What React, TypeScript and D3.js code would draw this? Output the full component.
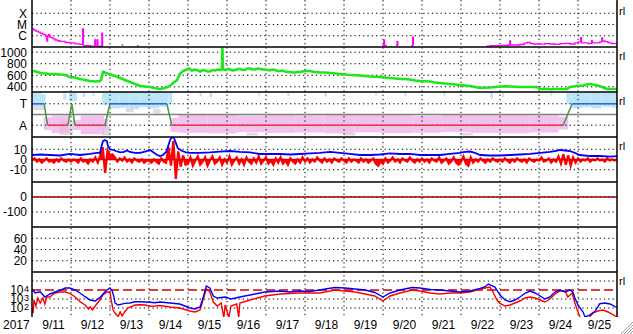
import React from "react";
import * as d3 from "d3";

// ---------------- DATA ----------------
// time is given as fractional day of September 2017
const yearLabel = "2017";
const dayLabels = ["9/11", "9/12", "9/13", "9/14", "9/15", "9/16", "9/17", "9/18", "9/19", "9/20", "9/21", "9/22", "9/23", "9/24", "9/25"];

// GOES X-ray flux (W/m^2), null = gap
const xray: [number, number | null][] = [
  [11.0, 4.0e-6], [11.05, 3.2e-6], [11.1, 2.6e-6], [11.16, 2.1e-6], [11.21, 1.7e-6], [11.27, 1.4e-6], [11.31, 1.2e-6],
  [11.36, 8.6e-7], [11.38, 3.4e-7], [11.4, 9.5e-7], [11.43, 1.3e-6], [11.45, 7.5e-7], [11.49, 6.9e-7], [11.54, 5.2e-7],
  [11.59, 4.2e-7], [11.65, 3.6e-7], [11.72, 3.1e-7], [11.85, 2.5e-7], [11.97, 2.3e-7], [12.1, 1.9e-7], [12.23, 1.7e-7],
  [12.29, 1.7e-7], [12.3, 4.0e-6], [12.32, 1.3e-7], [12.49, 1.2e-7], [12.6, 1.2e-7], [12.61, 4.2e-7], [12.63, 1.2e-7],
  [12.66, 1.2e-7], [12.67, 4.2e-7], [12.69, 1.2e-7], [12.78, 1.2e-7], [12.79, 1.7e-6], [12.81, 1.1e-7], [12.82, null],
  [13.3, 1.5e-7], [13.34, 1.5e-7], [13.35, null],
  [13.69, 1.3e-7], [13.73, 1.3e-7], [13.74, null],
  [19.98, 1.3e-7], [20.02, 4.2e-7], [20.04, 1.3e-7], [20.1, 1.3e-7], [20.12, null],
  [20.33, 1.3e-7], [20.36, 3.0e-7], [20.38, 1.3e-7], [20.42, null],
  [20.72, 1.3e-7], [20.76, 7.7e-7], [20.78, 1.4e-7], [20.82, null],
  [22.65, 1.2e-7], [22.75, 1.3e-7], [22.87, 1.35e-7], [23.05, 1.4e-7], [23.21, 1.5e-7], [23.25, 3.4e-7], [23.27, 1.5e-7],
  [23.33, 1.5e-7], [23.51, 1.66e-7], [23.62, 2.2e-7], [23.69, 2.5e-7], [23.78, 2.0e-7], [23.85, 1.85e-7], [24.03, 1.8e-7],
  [24.15, 2.0e-7], [24.28, 1.85e-7], [24.41, 1.7e-7], [24.54, 2.0e-7], [24.67, 2.1e-7], [24.79, 1.85e-7], [24.92, 2.3e-7],
  [25.0, 2.8e-7], [25.07, 6.9e-7], [25.09, 2.3e-7], [25.26, 2.0e-7], [25.35, 3.7e-7], [25.37, 2.3e-7], [25.44, 2.3e-7],
  [25.56, 2.8e-7], [25.61, 6.3e-7], [25.63, 3.4e-7], [25.69, 3.0e-7], [25.77, 2.3e-7], [25.87, 2.0e-7], [26.0, 1.85e-7],
];

// Solar wind speed (km/s)
const windSpeed: [number, number][] = [
  [11.0, 657], [11.05, 674], [11.1, 666], [11.21, 640], [11.33, 631], [11.46, 622], [11.59, 622], [11.72, 613], [11.85, 605],
  [11.97, 570], [12.1, 561], [12.23, 535], [12.36, 518], [12.49, 501], [12.62, 492], [12.74, 501], [12.77, 518], [12.82, 657],
  [12.9, 640], [13.0, 613], [13.13, 587], [13.26, 553], [13.38, 518], [13.51, 483], [13.64, 449], [13.77, 414], [13.9, 405],
  [14.03, 397], [14.15, 379], [14.28, 362], [14.41, 379], [14.54, 414], [14.62, 466], [14.72, 518], [14.79, 622], [14.87, 674],
  [14.97, 700], [15.03, 717], [15.1, 683], [15.17, 700], [15.23, 691], [15.31, 666], [15.38, 691], [15.44, 683], [15.5, 666],
  [15.56, 666], [15.63, 691], [15.69, 683], [15.76, 700], [15.82, 691], [15.87, 709], [15.88, 1080], [15.9, 700], [15.97, 691],
  [16.03, 709], [16.08, 700], [16.15, 683], [16.21, 691], [16.28, 709], [16.33, 709], [16.4, 691], [16.46, 691], [16.52, 717],
  [16.59, 717], [16.66, 700], [16.72, 700], [16.79, 717], [16.85, 709], [16.91, 700], [16.97, 700], [17.04, 691], [17.1, 683],
  [17.17, 700], [17.23, 691], [17.3, 674], [17.36, 674], [17.42, 683], [17.49, 666], [17.55, 657], [17.62, 657], [17.68, 648],
  [17.74, 648], [17.8, 657], [17.87, 657], [18.0, 674], [18.13, 674], [18.25, 657], [18.38, 648], [18.51, 648], [18.64, 640],
  [18.77, 631], [18.9, 622], [19.02, 613], [19.15, 605], [19.28, 600], [19.41, 596], [19.54, 587], [19.67, 579], [19.8, 575],
  [19.92, 570], [20.05, 561], [20.18, 553], [20.31, 544], [20.44, 535], [20.56, 535], [20.69, 527], [20.82, 509], [20.95, 501],
  [21.08, 497], [21.21, 492], [21.33, 475], [21.46, 466], [21.59, 458], [21.72, 449], [21.85, 440], [21.97, 431], [22.1, 423],
  [22.23, 414], [22.36, 397], [22.49, 379], [22.62, 384], [22.74, 388], [22.87, 397], [23.0, 405], [23.13, 409], [23.26, 405],
  [23.38, 401], [23.51, 397], [23.74, 397], [23.95, 397], [24.03, 362], [24.15, 366], [24.28, 357], [24.41, 362], [24.54, 362],
  [24.72, 362], [24.79, 397], [24.88, 405], [24.97, 414], [25.05, 418], [25.13, 423], [25.22, 440], [25.31, 449], [25.38, 440],
  [25.46, 431], [25.54, 414], [25.62, 397], [25.68, 379], [25.74, 362], [25.87, 362], [26.0, 362],
];

// IMF phi angle scatter, bands: [startDay, endDay, low, high] in sector units (+0.5 toward, -0.5 away)
const phiToward: [number, number, number, number][] = [
  [11.0, 11.25, 0.4, 1.02], [11.25, 11.35, 0.5, 0.95], [11.8, 11.88, 0.7, 0.98], [11.95, 12.15, 0.62, 1.02],
  [12.3, 12.36, 0.82, 1.0], [12.55, 12.6, 0.86, 1.0], [12.8, 13.0, 0.45, 1.02], [13.0, 13.25, 0.28, 1.04],
  [13.25, 13.5, 0.32, 1.04], [13.5, 13.75, 0.25, 1.04], [13.75, 14.0, 0.34, 1.04], [14.0, 14.25, 0.28, 1.04],
  [14.25, 14.5, 0.36, 1.04], [14.5, 14.6, 0.5, 1.0], [15.3, 15.36, 0.85, 1.02], [15.55, 15.62, 0.8, 1.02],
  [16.8, 16.85, 0.88, 1.02], [17.55, 17.6, 0.86, 1.02], [18.5, 18.56, 0.84, 1.02], [19.8, 19.84, 0.88, 1.02],
  [20.55, 20.6, 0.85, 1.02], [21.55, 21.6, 0.88, 1.02], [22.75, 22.82, 0.75, 1.02], [23.05, 23.1, 0.8, 1.02],
  [24.3, 24.34, 0.86, 1.02], [24.7, 24.85, 0.5, 1.02], [24.85, 25.1, 0.3, 1.04], [25.1, 25.35, 0.34, 1.04],
  [25.35, 25.6, 0.28, 1.04], [25.6, 25.85, 0.36, 1.04], [25.85, 26.0, 0.32, 1.04],
];
const phiAway: [number, number, number, number][] = [
  [11.3, 11.5, -0.72, -0.12], [11.5, 11.95, -0.86, -0.05], [12.05, 12.25, -0.72, -0.26], [12.25, 12.85, -0.92, -0.05],
  [12.85, 12.95, -0.7, -0.2], [14.55, 14.75, -0.82, -0.15], [14.75, 15.5, -0.85, -0.02], [15.5, 16.25, -0.88, 0.02],
  [16.25, 17.0, -0.82, -0.05], [17.0, 17.75, -0.86, 0.0], [17.75, 18.5, -0.84, -0.04], [18.5, 19.25, -0.88, 0.03],
  [19.25, 20.0, -0.83, -0.02], [20.0, 20.75, -0.87, 0.0], [20.75, 21.5, -0.85, -0.06], [21.5, 22.25, -0.82, 0.02],
  [22.25, 23.0, -0.86, -0.03], [23.0, 23.75, -0.88, 0.0], [23.75, 24.5, -0.84, -0.04], [24.5, 24.75, -0.7, -0.1],
];
const phiOther: [number, number, number, number][] = [
  [11.0, 11.3, 0.2, 0.45], [11.7, 12.05, -0.95, -0.3], [12.8, 13.0, -0.98, -0.55], [13.4, 13.6, 0.1, 0.3],
  [14.1, 14.3, 0.05, 0.25], [16.5, 16.8, -0.98, -0.85], [19.0, 19.3, -0.98, -0.86], [22.0, 22.3, -0.98, -0.86],
];
// modelled sector polarity: +1 toward, -1 away
const sectorState: [number, number][] = [
  [11.0, 1], [11.31, 1], [11.4, -1], [11.92, -1], [12.02, 1], [12.1, -1], [12.87, -1], [13.0, 1],
  [14.46, 1], [14.58, -1], [24.62, -1], [24.85, 1], [26.0, 1],
];

// IMF |B| (nT)
const imfBt: [number, number][] = [
  [11.0, 4.4], [11.21, 4.9], [11.46, 4.4], [11.72, 3.9], [11.97, 5.4], [12.23, 4.4], [12.49, 5.4], [12.67, 6.4], [12.74, 6.4],
  [12.79, 14], [12.82, 18], [12.87, 19], [12.92, 18], [12.95, 13], [13.0, 10], [13.08, 9.3], [13.15, 8.3], [13.26, 6.9],
  [13.36, 7.4], [13.44, 8.8], [13.51, 7.4], [13.64, 6.4], [13.77, 6.4], [13.9, 7.8], [14.03, 9.3], [14.1, 7.4], [14.21, 4.4],
  [14.28, 3.4], [14.36, 4.4], [14.44, 7.4], [14.49, 13], [14.54, 19], [14.59, 22], [14.64, 21], [14.69, 16], [14.74, 11],
  [14.85, 8.3], [14.95, 6.9], [15.05, 6.4], [15.31, 6.4], [15.56, 6.9], [15.82, 7.8], [16.08, 8.3], [16.33, 7.4], [16.59, 6.9],
  [16.85, 5.4], [17.1, 5.4], [17.36, 5.4], [17.62, 4.9], [17.87, 5.4], [18.13, 5.9], [18.38, 6.4], [18.64, 7.4], [18.9, 6.4],
  [19.15, 5.4], [19.41, 4.4], [19.67, 4.4], [19.92, 4.9], [20.18, 5.9], [20.44, 5.4], [20.69, 5.4], [20.95, 4.4], [21.21, 4.4],
  [21.46, 4.4], [21.72, 5.4], [21.97, 6.4], [22.1, 7.4], [22.23, 7.8], [22.36, 6.4], [22.49, 4.4], [22.74, 3.9], [23.0, 3.9],
  [23.26, 4.4], [23.51, 4.9], [23.77, 5.4], [24.03, 6.4], [24.28, 7.4], [24.41, 8.3], [24.54, 9.3], [24.67, 8.8], [24.79, 8.3],
  [24.92, 6.4], [25.05, 4.4], [25.31, 3.4], [25.56, 3.4], [25.82, 2.9], [26.0, 3.4],
];

// IMF Bz (nT), sampled every 1.5 h from 9/11 00:00
const bzStartDay = 11;
const bzSamplesPerDay = 16;
const imfBz: number[] = [
  -1, 1, -2, 0, -3, -1, 1, -2, -1, -3, 0, -2, 1, -1, -2, 0,
  -2, 0, -1, -3, 1, -2, -1, -4, 0, -2, 2, -3, 4, 12, -13, 9,
  4, 5, 2, -2, 1, -1, 2, -2, 0, -3, 1, -1, -2, 0, -3, -1,
  -1, -3, 0, -2, -4, 1, -2, -3, 12, -6, 18, -19, 8, -7, 4, -5,
  -4, 2, -6, -1, 3, -5, -2, 2, -6, -1, 3, -4, -2, 2, -5, 0,
  -3, 3, -5, -1, 2, -4, 0, -5, 2, -2, -4, 1, -3, 3, -4, -1,
  2, -4, -1, -5, 1, -3, 2, -4, -1, -5, 1, -2, -4, 0, -3, 2,
  -2, 1, -3, 0, -2, 2, -1, -3, 1, -2, 0, -3, 1, -1, -2, 1,
  -1, -3, 1, -2, 0, -1, -3, 1, -2, 0, -3, -1, 1, -4, -6, -2,
  -4, 1, -3, -1, 2, -2, 0, -3, 1, -1, -2, 2, -1, -3, 0, -2,
  1, -2, 0, -3, 1, -1, -2, 2, -3, -1, 1, -4, -2, 2, -3, -5,
  -2, 3, -4, -6, 2, -3, 0, -2, 1, -1, -3, 0, -2, 1, -1, -2,
  0, -2, 1, -1, -3, 0, -2, 1, -1, -2, 0, -3, 1, -1, -2, 0,
  -1, 2, -2, -1, 1, -3, 0, -2, 3, -4, 5, -5, 4, -6, 2, -3,
  1, -2, 0, -1, 1, -2, 0, -1, 1, -1, 0, -2, 1, -1, 0, -1,
  0,
];

// Electron flux (log scale)
const electronBlue: [number, number][] = [
  [11.0, 12900], [11.08, 4640], [11.21, 6400], [11.33, 1670], [11.46, 3590], [11.59, 6000], [11.72, 9300], [11.85, 16700],
  [11.97, 16700], [12.1, 10000], [12.23, 4640], [12.36, 1800], [12.49, 774], [12.62, 600], [12.74, 1400], [12.82, 3590],
  [12.92, 10000], [13.0, 16700], [13.05, 10000], [13.1, 1800], [13.13, 359], [13.21, 215], [13.38, 330], [13.51, 359],
  [13.64, 500], [13.77, 500], [13.9, 464], [14.03, 430], [14.15, 390], [14.28, 464], [14.54, 359], [14.79, 278], [15.05, 100],
  [15.18, 77], [15.31, 129], [15.4, 2150], [15.47, 27800], [15.56, 16700], [15.65, 2150], [15.75, 1290], [15.95, 1670],
  [16.1, 1000], [16.33, 1670], [16.59, 2780], [16.97, 6000], [17.36, 7740], [17.6, 6000], [17.87, 7740], [18.1, 6800],
  [18.38, 10000], [18.6, 14700], [18.77, 19000], [19.03, 16700], [19.28, 12900], [19.54, 10000], [19.79, 5300], [20.0, 1670],
  [20.18, 4640], [20.44, 10000], [20.74, 19000], [20.95, 16700], [21.21, 11300], [21.46, 10000], [21.72, 7740], [21.97, 6000],
  [22.23, 7740], [22.49, 15400], [22.62, 23400], [22.7, 46400], [22.87, 21500], [23.0, 2780], [23.13, 774], [23.26, 500],
  [23.38, 774], [23.51, 1670], [23.64, 4300], [23.77, 7740], [23.9, 4640], [24.03, 2150], [24.15, 1000], [24.28, 1670],
  [24.41, 6000], [24.54, 10000], [24.67, 6000], [24.79, 10000], [24.87, 6000], [24.92, 1290], [25.0, 215], [25.13, 36],
  [25.18, 10], [25.31, 17], [25.44, 46], [25.56, 300], [25.69, 359], [25.82, 278], [25.95, 140], [26.0, 129],
];
const electronRed: [number, number][] = [
  [11.0, 60], [11.03, 28], [11.05, 774], [11.1, 167], [11.15, 1290], [11.21, 359], [11.28, 1290], [11.33, 278], [11.38, 1670],
  [11.46, 1670], [11.52, 2780], [11.59, 4640], [11.72, 6000], [11.85, 6000], [11.97, 4300], [12.1, 1800], [12.23, 500],
  [12.36, 215], [12.45, 77], [12.49, 140], [12.55, 60], [12.62, 167], [12.74, 774], [12.82, 2780], [12.92, 6000], [13.0, 6400],
  [13.03, 774], [13.08, 60], [13.13, 26], [13.21, 11], [13.26, 36], [13.31, 13], [13.38, 39], [13.46, 100], [13.64, 215],
  [13.77, 230], [13.9, 215], [14.03, 155], [14.15, 167], [14.28, 190], [14.54, 129], [14.79, 100], [15.05, 46], [15.18, 36],
  [15.31, 60], [15.4, 1290], [15.47, 12900], [15.56, 6000], [15.65, 464], [15.75, 167], [15.85, 359], [15.92, 8], [15.95, 215],
  [16.05, 8], [16.1, 167], [16.25, 278], [16.3, 8], [16.33, 359], [16.59, 774], [16.97, 2150], [17.36, 3590], [17.87, 4640],
  [18.38, 4640], [18.77, 10000], [19.03, 7740], [19.28, 6000], [19.54, 3590], [19.79, 2150], [20.0, 600], [20.18, 2150],
  [20.44, 4640], [20.74, 10000], [20.95, 7740], [21.21, 4640], [21.46, 3590], [21.72, 4640], [21.97, 4640], [22.23, 6000],
  [22.49, 12900], [22.62, 16700], [22.74, 21500], [22.82, 6000], [22.92, 774], [23.0, 330], [23.13, 167], [23.26, 215],
  [23.38, 359], [23.51, 600], [23.64, 1290], [23.77, 1670], [23.9, 1290], [24.03, 774], [24.15, 464], [24.28, 1000],
  [24.41, 3590], [24.54, 7740], [24.67, 7740], [24.74, 1670], [24.85, 4640], [24.92, 359], [25.0, 36], [25.05, 10], [25.15, 3],
  [25.26, 3], [25.31, 13], [25.39, 28], [25.51, 46], [25.64, 60], [25.77, 36], [25.87, 21], [26.0, 10],
];
const electronThreshold = 1e4;

// Tick labels
const xrayTicks: [number, string][] = [[1e-4, "X"], [1e-5, "M"], [1e-6, "C"]];
const speedTicks = [1000, 800, 600, 400];
const sectorTicks: [number, string][] = [[0.5, "T"], [-0.5, "A"]];
const bTicks = [10, 0, -10];
const dstTicks = [0, -100];
const p6Ticks = [60, 40, 20];
const eTicks: [number, string][] = [[1e4, "4"], [1e3, "3"], [1e2, "2"]];
const eGrid = [1e5, 1e3, 1e2];

// ---------------- LAYOUT ----------------
const W = 633, H = 334;
const X0 = 32, X1 = 617;
const TOPS = [2, 47, 92, 137, 182, 227, 272];
const PH = 45;
const FONT = "'Liberation Sans', Arial, Helvetica, sans-serif";

export default function App() {
  const x = d3.scaleLinear().domain([11, 26]).range([X0, X1]);
  const yX = d3.scaleLog().domain([1e-7, 1e-3]).range([TOPS[0] + PH, TOPS[0]]);
  const yV = d3.scaleLinear().domain([310, 1090]).range([TOPS[1] + PH, TOPS[1]]);
  const yS = d3.scaleLinear().domain([-1.05, 1.05]).range([TOPS[2] + PH, TOPS[2]]);
  const yB = d3.scaleLinear().domain([-22, 22]).range([TOPS[3] + PH, TOPS[3]]);
  const yD = d3.scaleLinear().domain([-200, 100]).range([TOPS[4] + PH, TOPS[4]]);
  const y6 = d3.scaleLinear().domain([0, 80]).range([TOPS[5] + PH, TOPS[5]]);
  const yE = d3.scaleLog().domain([1e1, 1e6]).range([TOPS[6] + PH, TOPS[6]]);

  const dot = { stroke: "#000", strokeWidth: 1, strokeDasharray: "1.3 3" };
  const hDot = (y: number, k: string) => <line key={k} x1={X0} x2={X1} y1={y} y2={y} {...dot} />;

  const xrayPath = d3.line<[number, number | null]>()
    .defined((d) => d[1] != null)
    .x((d) => x(d[0]))
    .y((d) => yX(d[1] as number))
    .curve(d3.curveStepAfter)(xray) || "";
  const speedPath = d3.line<[number, number]>().x((d) => x(d[0])).y((d) => yV(d[1]))(windSpeed) || "";
  const btPath = d3.line<[number, number]>().x((d) => x(d[0])).y((d) => yB(d[1]))(imfBt) || "";
  const bzData: [number, number][] = imfBz.map((v, i) => [bzStartDay + i / bzSamplesPerDay, v]);
  const bzArea = d3.area<[number, number]>().x((d) => x(d[0])).y0(yB(0)).y1((d) => yB(d[1]))(bzData) || "";
  const bzLine = d3.line<[number, number]>().x((d) => x(d[0])).y((d) => yB(d[1]))(bzData) || "";
  const eLine = d3.line<[number, number]>().x((d) => x(d[0])).y((d) => yE(d[1]));
  const eBluePath = eLine(electronBlue) || "";
  const eRedPath = eLine(electronRed) || "";

  const sectorSegs = sectorState.slice(1).map((b, i) => {
    const a = sectorState[i];
    const color = a[1] !== b[1] ? "#3f9a3f" : a[1] > 0 ? "#3a5ee8" : "#e83a3a";
    return <line key={"s" + i} x1={x(a[0])} x2={x(b[0])} y1={yS(a[1] * 0.5)} y2={yS(b[1] * 0.5)} stroke={color} strokeWidth={1.5} />;
  });

  const band = (arr: [number, number, number, number][], fill: string, op: number, k: string) =>
    arr.map((d, i) => (
      <rect key={k + i} x={x(d[0])} width={Math.max(1, x(d[1]) - x(d[0]))} y={yS(d[3])} height={yS(d[2]) - yS(d[3])} fill={fill} opacity={op} />
    ));

  const midnights = d3.range(12, 26);
  const label = (y: number, t: string, k: string) => (
    <text key={k} x={27} y={y} dy="0.36em" textAnchor="end">{t}</text>
  );

  return (
    <svg width={W} height={H} style={{ position: "absolute", left: 0, top: 0, background: "#fff" }} fontFamily={FONT} fontSize={12}>
      <defs>
        {TOPS.map((t, i) => (
          <clipPath id={"clip" + i} key={i}>
            <rect x={X0} y={t} width={X1 - X0} height={PH} />
          </clipPath>
        ))}
      </defs>
      <rect x={0} y={0} width={W} height={H} fill="#fff" />

      {/* panel 3 scatter bands */}
      <g clipPath="url(#clip2)">
        {band(phiOther, "#cfcfcf", 0.7, "g")}
        {band(phiAway, "#f0b0ec", 0.8, "a")}
        {band(phiToward, "#a6e0f6", 0.8, "t")}
      </g>

      {/* grids */}
      {midnights.map((d) => (
        <line key={"v" + d} x1={x(d)} x2={x(d)} y1={0} y2={TOPS[6] + PH} {...dot} />
      ))}
      {xrayTicks.map(([v], i) => hDot(yX(v), "gx" + i))}
      {speedTicks.map((v, i) => hDot(yV(v), "gv" + i))}
      {sectorTicks.map(([v], i) => hDot(yS(v), "gs" + i))}
      {bTicks.map((v, i) => hDot(yB(v), "gb" + i))}
      {dstTicks.map((v, i) => hDot(yD(v), "gd" + i))}
      {p6Ticks.map((v, i) => hDot(y6(v), "g6" + i))}
      {eGrid.map((v, i) => hDot(yE(v), "ge" + i))}

      {/* panel 1 */}
      <g clipPath="url(#clip0)">
        <path d={xrayPath} fill="none" stroke="#ff00ff" strokeWidth={1.3} />
      </g>
      {/* panel 2 */}
      <g clipPath="url(#clip1)">
        <path d={speedPath} fill="none" stroke="#1ee61e" strokeWidth={2.6} strokeLinejoin="miter" />
      </g>
      {/* panel 3 lines */}
      <g clipPath="url(#clip2)">
        <line x1={X0} x2={X1} y1={yS(0)} y2={yS(0)} stroke="#808080" strokeWidth={1.5} />
        {sectorSegs}
      </g>
      {/* panel 4 */}
      <g clipPath="url(#clip3)">
        <path d={bzArea} fill="#ff0000" stroke="none" />
        <path d={bzLine} fill="none" stroke="#ff0000" strokeWidth={2.3} />
        <line x1={X0} x2={X1} y1={yB(0)} y2={yB(0)} stroke="#e00000" strokeWidth={1.5} />
        <path d={btPath} fill="none" stroke="#0000ff" strokeWidth={1.8} />
      </g>
      {/* panel 5 */}
      <line x1={X0} x2={X1} y1={yD(0)} y2={yD(0)} stroke="#a00000" strokeWidth={1.5} />
      {/* panel 7 */}
      <g clipPath="url(#clip6)">
        <line x1={X0} x2={X1} y1={yE(electronThreshold)} y2={yE(electronThreshold)} stroke="#cc0000" strokeWidth={1.5} strokeDasharray="9 4" />
        <path d={eRedPath} fill="none" stroke="#ff0000" strokeWidth={1.4} />
        <path d={eBluePath} fill="none" stroke="#0000ff" strokeWidth={1.4} />
      </g>

      {/* frame */}
      {TOPS.slice(1).map((t) => (
        <line key={"sep" + t} x1={X0} x2={X1} y1={t} y2={t} stroke="#000" strokeWidth={1.5} />
      ))}
      <line x1={X0} x2={X0} y1={0} y2={TOPS[6] + PH} stroke="#000" strokeWidth={1.5} />
      <line x1={X1} x2={X1} y1={0} y2={TOPS[6] + PH} stroke="#000" strokeWidth={1.5} />

      {/* y labels */}
      {xrayTicks.map(([v, t], i) => label(yX(v), t, "lx" + i))}
      {speedTicks.map((v, i) => label(yV(v), String(v), "lv" + i))}
      {sectorTicks.map(([v, t], i) => label(yS(v), t, "ls" + i))}
      {bTicks.map((v, i) => label(yB(v), String(v), "lb" + i))}
      {dstTicks.map((v, i) => label(yD(v), String(v), "ld" + i))}
      {p6Ticks.map((v, i) => label(y6(v), String(v), "l6" + i))}
      {eTicks.map(([v, e], i) => (
        <g key={"le" + i}>
          <text x={23.5} y={yE(v)} dy="0.36em" textAnchor="end">10</text>
          <text x={24} y={yE(v) + 1.5} fontSize={9}>{e}</text>
        </g>
      ))}

      {/* right-side markers */}
      {[0, 1, 2, 3, 6].map((i) => (
        <text key={"rl" + i} x={619} y={TOPS[i] + 13} fontSize={11}>rl</text>
      ))}

      {/* x labels */}
      <text x={3} y={328.5}>{yearLabel}</text>
      {dayLabels.map((t, i) => (
        <text key={t} x={x(11.5 + i) + 2} y={328.5} textAnchor="middle">{t}</text>
      ))}

      {/* window grip */}
      {[0, 1, 2, 3].map((i) => (
        <line key={"grip" + i} x1={621 + i * 3} y1={334} x2={633} y2={322 + i * 3} stroke="#9a9a9a" strokeWidth={1} />
      ))}
    </svg>
  );
}
